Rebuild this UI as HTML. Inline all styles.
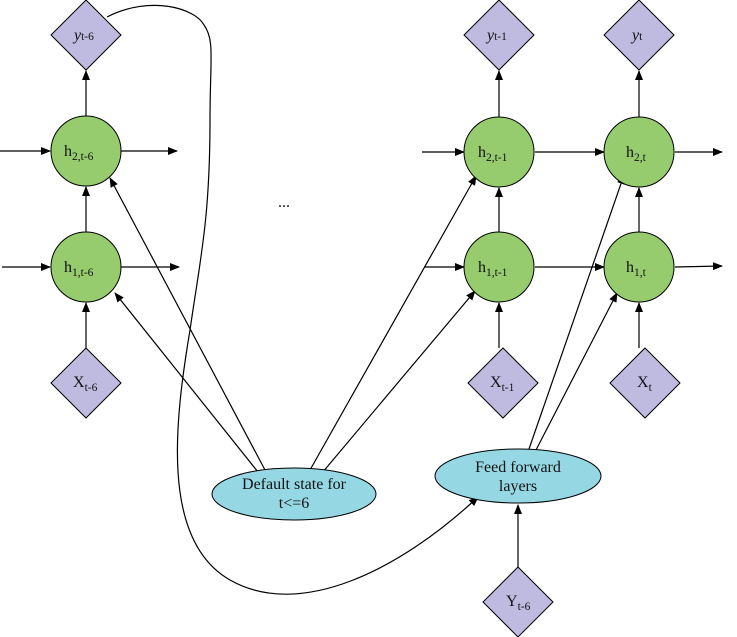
<!DOCTYPE html>
<html><head><style>
body{margin:0;background:#fff}
svg{display:block}
text{font-family:"Liberation Serif",serif;font-size:16px;fill:#111}
.s{font-size:11.5px}
</style></head><body>
<svg width="737" height="637" viewBox="0 0 737 637">
<defs><marker id="a" markerWidth="10" markerHeight="8" refX="9" refY="4" orient="auto" markerUnits="userSpaceOnUse"><path d="M0,0L10,4L0,8z" fill="#000"/></marker></defs>
<g stroke="#000" stroke-width="1.2" fill="none" marker-end="url(#a)">
<line x1="0" y1="151" x2="50" y2="151"/><line x1="121" y1="151" x2="177" y2="151"/>
<line x1="2" y1="267" x2="50" y2="267"/><line x1="121" y1="267" x2="179" y2="267"/>
<line x1="86" y1="116" x2="86" y2="71"/><line x1="86" y1="232" x2="86" y2="187"/><line x1="86" y1="348" x2="86" y2="303"/>
<line x1="422" y1="152" x2="464" y2="152"/><line x1="535" y1="152" x2="604" y2="152"/><line x1="675" y1="152" x2="722" y2="152"/>
<line x1="424" y1="267" x2="464" y2="267"/><line x1="535" y1="267" x2="604" y2="267"/><line x1="675" y1="267" x2="722" y2="266"/>
<line x1="499" y1="117" x2="499" y2="71"/><line x1="499" y1="232" x2="499" y2="188"/><line x1="499" y1="348" x2="499" y2="303"/>
<line x1="639" y1="117" x2="639" y2="71"/><line x1="639" y1="232" x2="639" y2="188"/><line x1="639" y1="348" x2="639" y2="303"/>
<line x1="265" y1="470" x2="110" y2="178"/><line x1="258" y1="472" x2="115" y2="293"/>
<line x1="310" y1="470" x2="476" y2="176"/><line x1="322" y1="473" x2="475" y2="291"/>
<line x1="529" y1="449" x2="624" y2="175"/><line x1="536" y1="450" x2="617" y2="293"/>
<line x1="518" y1="567" x2="518" y2="505"/>
<path d="M107,17 C150,-5 195,8 204,25 C215,40 210,60 210,120 C210,220 200,260 190,330 C175,420 160,540 230,580 C300,620 400,570 478,497"/>
</g>
<g fill="#bfbbe0" stroke="#000" stroke-width="1">
<path d="M86,0L121,35L86,70L51,35z"/><path d="M499,0L534,35L499,70L464,35z"/><path d="M639,0L674,35L639,70L604,35z"/>
<path d="M86,348L121,383L86,418L51,383z"/><path d="M503,348L538,383L503,418L468,383z"/><path d="M645,348L680,383L645,418L610,383z"/>
<path d="M518,567L553,602L518,637L483,602z"/>
</g>
<g fill="#96cc6e" stroke="#000" stroke-width="1">
<circle cx="86" cy="151" r="35"/><circle cx="86" cy="267" r="35"/>
<circle cx="499" cy="152" r="35"/><circle cx="499" cy="267" r="35"/>
<circle cx="639" cy="152" r="35"/><circle cx="639" cy="267" r="35"/>
</g>
<g fill="#95d8e4" stroke="#000" stroke-width="1">
<ellipse cx="294" cy="494" rx="82" ry="26"/><ellipse cx="518" cy="476" rx="83" ry="27"/>
</g>
<text x="74" y="40"><tspan font-style="italic">y</tspan><tspan class="s">t-6</tspan></text>
<text x="487" y="40"><tspan font-style="italic">y</tspan><tspan class="s">t-1</tspan></text>
<text x="632" y="40"><tspan font-style="italic">y</tspan><tspan class="s">t</tspan></text>
<text x="64" y="156">h<tspan class="s" dy="4">2,t-6</tspan></text>
<text x="64" y="272">h<tspan class="s" dy="4">1,t-6</tspan></text>
<text x="478" y="157">h<tspan class="s" dy="4">2,t-1</tspan></text>
<text x="478" y="272">h<tspan class="s" dy="4">1,t-1</tspan></text>
<text x="626" y="157">h<tspan class="s" dy="4">2,t</tspan></text>
<text x="626" y="272">h<tspan class="s" dy="4">1,t</tspan></text>
<text x="73" y="387">X<tspan class="s" dy="4">t-6</tspan></text>
<text x="490" y="387">X<tspan class="s" dy="4">t-1</tspan></text>
<text x="637" y="387">X<tspan class="s" dy="4">t</tspan></text>
<text x="506" y="606">Y<tspan class="s" dy="4">t-6</tspan></text>
<text x="294" y="489" text-anchor="middle">Default state for</text>
<text x="294" y="508" text-anchor="middle">t&lt;=6</text>
<text x="518" y="472" text-anchor="middle">Feed forward</text>
<text x="518" y="491" text-anchor="middle">layers</text>
<text x="278" y="207">...</text>
</svg>
</body></html>
